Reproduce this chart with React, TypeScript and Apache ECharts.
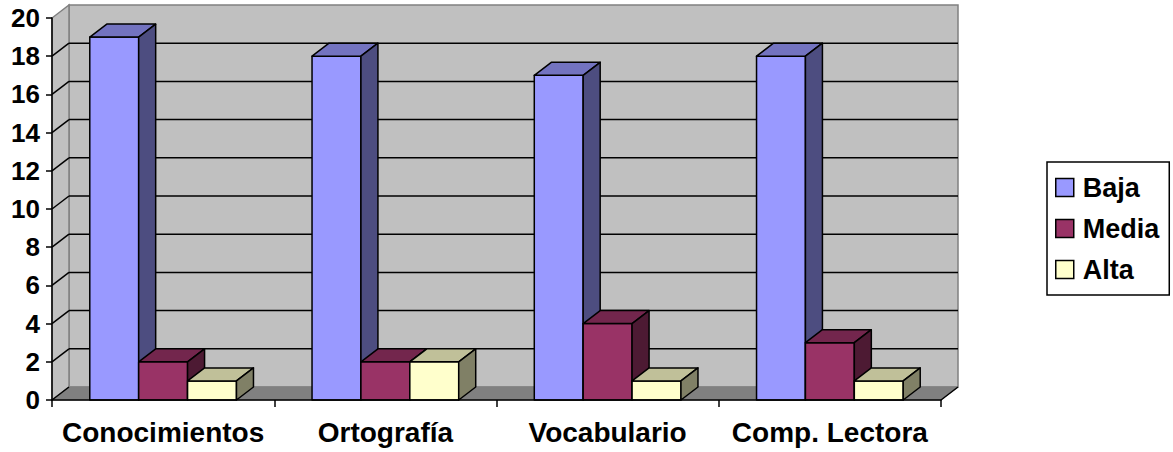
import React, { useEffect, useRef } from "react";
import * as echarts from "echarts";

const categories = ["Conocimientos", "Ortografía", "Vocabulario", "Comp. Lectora"];
const seriesNames = ["Baja", "Media", "Alta"];
const bajaValues = [19, 18, 17, 18];
const mediaValues = [2, 2, 4, 3];
const altaValues = [1, 2, 1, 1];
const yMin = 0;
const yMax = 20;
const yInterval = 2;

const FONT = "'Liberation Sans', Arial, sans-serif";
const DX = 17;
const DY = -13;

const faceColors = [
  { front: "#9999FF", top: "#7373C0", side: "#4D4D80" },
  { front: "#993366", top: "#73264D", side: "#4D1A33" },
  { front: "#FFFFCC", top: "#C0C099", side: "#808066" },
];

function makeBarSeries(name: string, values: number[], idx: number) {
  return {
    type: "custom",
    name,
    coordinateSystem: "cartesian2d",
    itemStyle: { color: faceColors[idx].front, borderColor: "#000", borderWidth: 1.5 },
    encode: { x: 0, y: 1 },
    data: values.map((v, i) => [i, v]),
    z: 3,
    renderItem: (params: any, api: any) => {
      const cat = api.value(0);
      const v = api.value(1);
      const top = api.coord([cat, v]);
      const base = api.coord([cat, 0]);
      const cw = api.size([1, 0])[0];
      const bw = cw * 0.22;
      const xl = top[0] - 1.5 * bw + idx * bw;
      const xr = xl + bw;
      const yt = top[1];
      const yb = base[1];
      const stroke = { stroke: "#000", lineWidth: 1.5, lineJoin: "round" };
      const c = faceColors[idx];
      return {
        type: "group",
        children: [
          {
            type: "polygon",
            shape: { points: [[xl, yb], [xr, yb], [xr, yt], [xl, yt]] },
            style: { fill: c.front, ...stroke },
          },
          {
            type: "polygon",
            shape: { points: [[xl, yt], [xr, yt], [xr + DX, yt + DY], [xl + DX, yt + DY]] },
            style: { fill: c.top, ...stroke },
          },
          {
            type: "polygon",
            shape: { points: [[xr, yt], [xr + DX, yt + DY], [xr + DX, yb + DY], [xr, yb]] },
            style: { fill: c.side, ...stroke },
          },
        ],
      };
    },
  };
}

export default function App() {
  const ref = useRef<HTMLDivElement>(null);
  useEffect(() => {
    if (!ref.current) return;
    const chart = echarts.init(ref.current, null, { renderer: "svg" });
    const backdrop = {
      type: "custom",
      name: "_backdrop",
      coordinateSystem: "cartesian2d",
      silent: true,
      z: 1,
      data: [[0, 0]],
      renderItem: (params: any, api: any) => {
        const cs = params.coordSys;
        const x0 = cs.x;
        const x1 = cs.x + cs.width;
        const y0 = api.coord([0, yMin])[1];
        const yT = api.coord([0, yMax])[1];
        const children: any[] = [];
        children.push({
          type: "polygon",
          shape: { points: [[x0 + DX, yT + DY], [x1 + DX, yT + DY], [x1 + DX, y0 + DY], [x0 + DX, y0 + DY]] },
          style: { fill: "#C0C0C0", stroke: "#808080", lineWidth: 1.5 },
        });
        children.push({
          type: "polygon",
          shape: { points: [[x0, y0], [x0, yT], [x0 + DX, yT + DY], [x0 + DX, y0 + DY]] },
          style: { fill: "#C0C0C0", stroke: "#808080", lineWidth: 1.5 },
        });
        children.push({
          type: "polygon",
          shape: { points: [[x0, y0], [x1, y0], [x1 + DX, y0 + DY], [x0 + DX, y0 + DY]] },
          style: { fill: "#808080", stroke: "#808080", lineWidth: 1 },
        });
        for (let v = yMin + yInterval; v < yMax; v += yInterval) {
          const y = api.coord([0, v])[1];
          children.push({
            type: "line",
            shape: { x1: x0 + DX, y1: y + DY, x2: x1 + DX, y2: y + DY },
            style: { stroke: "#000", lineWidth: 1.5 },
          });
          children.push({
            type: "line",
            shape: { x1: x0, y1: y, x2: x0 + DX, y2: y + DY },
            style: { stroke: "#000", lineWidth: 1.5 },
          });
        }
        children.push({
          type: "line",
          shape: { x1: x0, y1: y0, x2: x0 + DX, y2: y0 + DY },
          style: { stroke: "#000", lineWidth: 1.5 },
        });
        children.push({
          type: "line",
          shape: { x1: x1, y1: y0, x2: x1 + DX, y2: y0 + DY },
          style: { stroke: "#000", lineWidth: 1.5 },
        });
        return { type: "group", children };
      },
    };
    chart.setOption({
      animation: false,
      backgroundColor: "#fff",
      grid: { left: 52, right: 232, top: 18, bottom: 52 },
      legend: {
        data: seriesNames,
        orient: "vertical",
        left: 1047,
        top: 162,
        padding: [12, 10, 12, 8],
        itemGap: 14,
        itemWidth: 18,
        itemHeight: 18,
        icon: "rect",
        backgroundColor: "#fff",
        borderColor: "#000",
        borderWidth: 1.5,
        itemStyle: { borderColor: "#000", borderWidth: 1.5 },
        textStyle: {
          fontFamily: FONT,
          fontWeight: "bold",
          fontSize: 27,
          lineHeight: 26,
          color: "#000",
          padding: [0, 0, 0, 4],
        },
      },
      xAxis: {
        type: "category",
        data: categories,
        z: 5,
        axisLine: { lineStyle: { color: "#000", width: 1.5 } },
        axisTick: { show: true, length: 7, lineStyle: { color: "#000", width: 1.5 } },
        axisLabel: {
          fontFamily: FONT,
          fontWeight: "bold",
          fontSize: 28,
          color: "#000",
          margin: 18,
          interval: 0,
        },
        splitLine: { show: false },
      },
      yAxis: {
        type: "value",
        min: yMin,
        max: yMax,
        interval: yInterval,
        z: 5,
        axisLine: { show: true, lineStyle: { color: "#000", width: 1.5 } },
        axisTick: { show: true, length: 6, lineStyle: { color: "#000", width: 1.5 } },
        axisLabel: {
          fontFamily: FONT,
          fontWeight: "bold",
          fontSize: 26,
          color: "#000",
          margin: 12,
        },
        splitLine: { show: false },
      },
      series: [
        backdrop,
        makeBarSeries(seriesNames[0], bajaValues, 0),
        makeBarSeries(seriesNames[1], mediaValues, 1),
        makeBarSeries(seriesNames[2], altaValues, 2),
      ],
    });
    return () => chart.dispose();
  }, []);
  return (
    <div
      ref={ref}
      style={{ position: "absolute", left: 0, top: 0, width: 1173, height: 452, background: "#fff" }}
    />
  );
}
